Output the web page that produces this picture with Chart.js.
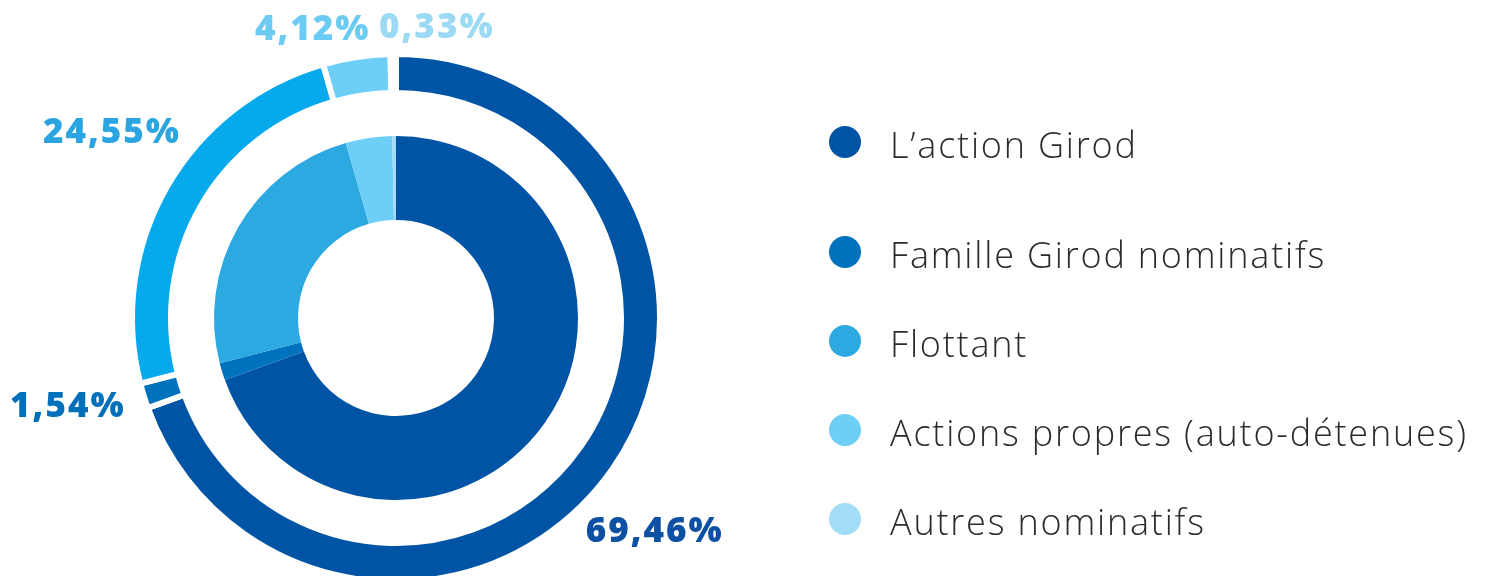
<!DOCTYPE html>
<html>
<head>
<meta charset="utf-8">
<script src="https://cdn.jsdelivr.net/npm/chart.js@4/dist/chart.umd.min.js"></script>
<style>
  html, body { margin: 0; padding: 0; background: #ffffff; overflow: hidden; }
  #wrap { position: relative; width: 1489px; height: 576px; }
  #chart { position: absolute; left: 0; top: 0; }
  #legend { position: absolute; left: 829px; top: 100px; font-family: "Open Sans", sans-serif; font-weight: 300; color: #2b2b2b; }
  .row { display: flex; align-items: center; height: 89px; font-size: 36px; letter-spacing: 1.8px; white-space: nowrap; }
  .row:first-child { margin-bottom: 21px; }
  .dot { width: 32px; height: 32px; border-radius: 50%; margin-right: 29px; flex: none; position: relative; top: -3px; }
</style>
</head>
<body>
<div id="wrap">
  <canvas id="chart" width="1489" height="576"></canvas>
  <div id="legend"></div>
</div>
<script>
const categories = ["L\u2019action Girod", "Famille Girod nominatifs", "Flottant", "Actions propres (auto-d\u00e9tenues)", "Autres nominatifs"];
const shares = [69.46, 1.54, 24.55, 4.12, 0.33];
const valueLabels = ["69,46%", "1,54%", "24,55%", "4,12%", "0,33%"];
const innerColors = ["#0054a5", "#0071bc", "#2ca9e1", "#6dcff6", "#a3dcf6"];
const outerColors = ["#0054a5", "#0071bc", "#06aaec", "#6dcff6", "#a3dcf6"];
const labelColors = ["#0b50a2", "#0070bb", "#2aa5e0", "#6bcbf3", "#9cd9f5"];

// legend (HTML)
const legend = document.getElementById('legend');
categories.forEach((c, i) => {
  const row = document.createElement('div');
  row.className = 'row';
  const dot = document.createElement('span');
  dot.className = 'dot';
  dot.style.background = innerColors[i];
  const txt = document.createElement('span');
  txt.textContent = c;
  row.appendChild(dot); row.appendChild(txt);
  legend.appendChild(row);
});

const pctLabels = {
  id: 'pctLabels',
  afterDatasetsDraw(chart, args, opts) {
    const meta = chart.getDatasetMeta(0);
    const ctx = chart.ctx;
    ctx.save();
    ctx.font = opts.font;
    if ('letterSpacing' in ctx) ctx.letterSpacing = opts.letterSpacing;
    ctx.textAlign = 'center';
    ctx.textBaseline = 'middle';
    meta.data.forEach((arc, i) => {
      const mid = (arc.startAngle + arc.endAngle) / 2 + opts.angleShift[i] * Math.PI / 180;
      const r = opts.distance[i];
      const x = arc.x + r * Math.cos(mid);
      const y = arc.y + r * Math.sin(mid);
      ctx.fillStyle = labelColors[i];
      ctx.fillText(valueLabels[i], x, y);
    });
    ctx.restore();
  }
};

new Chart(document.getElementById('chart'), {
  type: 'doughnut',
  data: {
    labels: categories,
    datasets: [
      { data: shares, backgroundColor: outerColors, borderColor: '#ffffff', borderWidth: 6, weight: 39 },
      { data: shares, backgroundColor: 'rgba(0,0,0,0)', borderWidth: 0, weight: 43 },
      { data: shares, backgroundColor: innerColors, borderWidth: 0, weight: 84 }
    ]
  },
  options: {
    responsive: false,
    animation: false,
    radius: 264,
    cutout: '37.12%',
    layout: { padding: { left: 135, right: 832, top: 60, bottom: 0 } },
    plugins: {
      legend: { display: false },
      tooltip: { enabled: false },
      pctLabels: {
        font: '800 35px "Open Sans", sans-serif',
        letterSpacing: '2px',
        angleShift: [4.6, 2.0, 3.3, -7.5, 8.6],
        distance: [336, 340, 339, 300, 293]
      }
    }
  },
  plugins: [pctLabels]
});
</script>
</body>
</html>
